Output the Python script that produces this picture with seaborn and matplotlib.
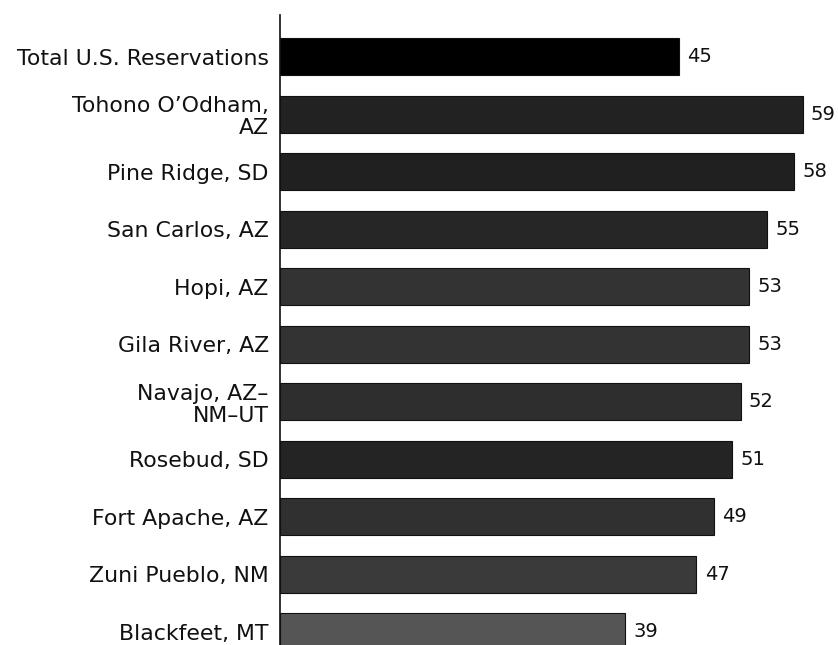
import matplotlib
matplotlib.use("Agg")
import matplotlib.pyplot as plt
import pandas as pd
import seaborn as sns

# Reservations and their values, top to bottom
reservations = [
    "Total U.S. Reservations",
    "Tohono O\u2019Odham,\nAZ",
    "Pine Ridge, SD",
    "San Carlos, AZ",
    "Hopi, AZ",
    "Gila River, AZ",
    "Navajo, AZ\u2013\nNM\u2013UT",
    "Rosebud, SD",
    "Fort Apache, AZ",
    "Zuni Pueblo, NM",
    "Blackfeet, MT",
]
values = [45, 59, 58, 55, 53, 53, 52, 51, 49, 47, 39]
bar_colors = ["#000000", "#222222", "#202020", "#262626", "#333333", "#333333",
              "#2e2e2e", "#242424", "#303030", "#3a3a3a", "#555555"]


if __name__ == "__main__":
    sns.set_theme(style="white")
    plt.rcParams["font.family"] = ["DejaVu Sans"]

    df = pd.DataFrame({"name": reservations, "value": values})

    fig = plt.figure(figsize=(8.38, 6.45), dpi=100)
    ax = fig.add_axes([0.334, 0.0, 0.666, 0.977])

    sns.barplot(data=df, x="value", y="name", hue="name", palette=bar_colors,
                orient="h", width=0.64, legend=False, ax=ax,
                edgecolor="#111111", linewidth=0.8)

    ax.set_xlim(0, 63)
    ax.set_ylim(len(values) - 1 + 0.23, -0.73)

    for c in ax.containers:
        ax.bar_label(c, padding=6, fontsize=14, color="#111111")

    ax.set_xlabel("")
    ax.set_ylabel("")
    ax.set_xticks([])
    ax.tick_params(axis="y", length=0, pad=8)
    for lbl in ax.get_yticklabels():
        lbl.set_fontsize(15.8)
        lbl.set_multialignment("right")
        lbl.set_linespacing(1.12)
        lbl.set_color("#111111")

    for side in ["top", "right", "bottom"]:
        ax.spines[side].set_visible(False)
    ax.spines["left"].set_color("#111111")
    ax.spines["left"].set_linewidth(1.2)

    fig.savefig("out.png", dpi=100)
